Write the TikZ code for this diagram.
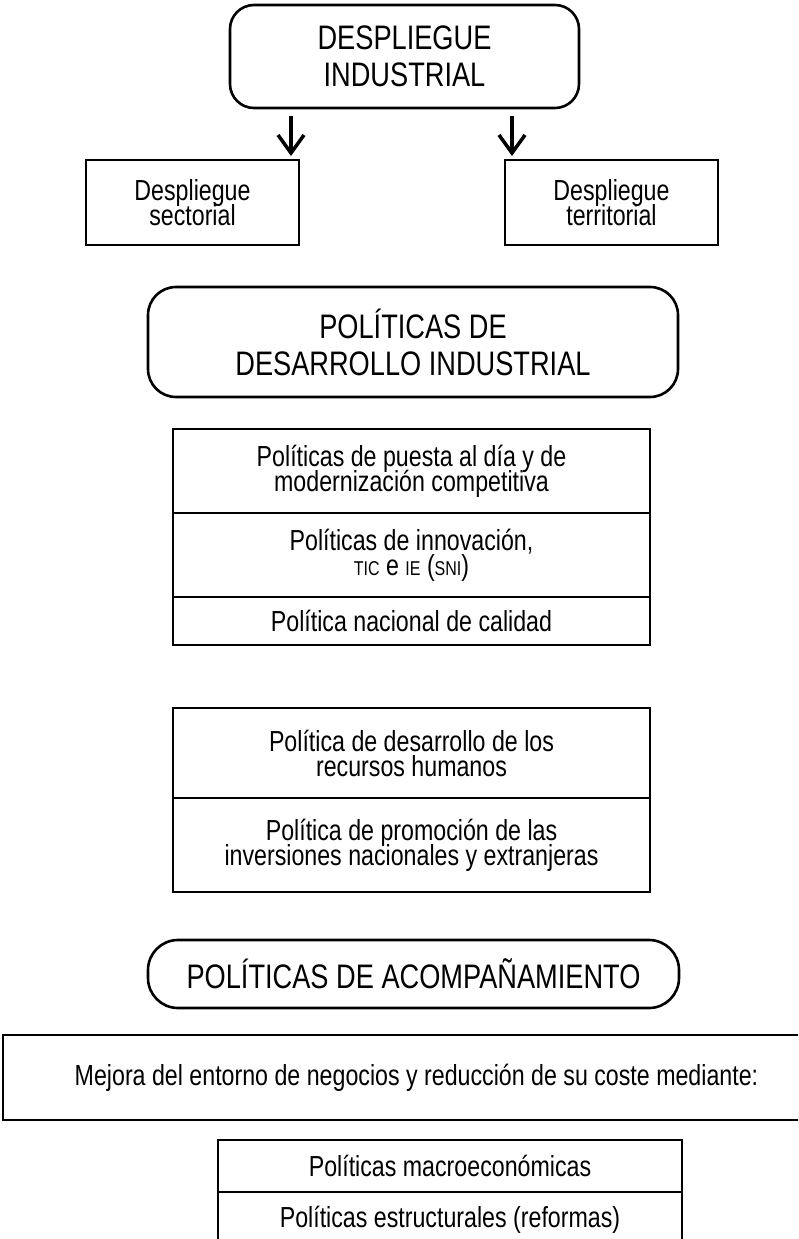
\documentclass[tikz,border=0pt]{standalone}
\usepackage{fontspec}
\setmainfont[FakeStretch=0.8]{Liberation Sans}
\usepackage{tikz}
\usetikzlibrary{arrows.meta}
\usetikzlibrary{calc}
\newcommand{\letrachica}{\fontsize{29}{25}\selectfont\lineskiplimit-50pt\relax}
\newcommand{\letragrande}{\fontsize{34}{37}\selectfont\lineskiplimit-50pt\relax}
\newcommand{\sigla}[1]{{\fontsize{20}{20}\selectfont #1}}
\tikzset{
    caja/.style={draw, line width=2.6pt, align=center, inner sep=0pt, outer sep=0pt,
        font=\letrachica},
    titulo/.style={caja, rounded corners=24pt, font=\letragrande},
    flecha/.style={line width=3.5pt, shorten >=4pt,
        -{Straight Barb[length=18pt,width=26pt,line width=3.5pt]}},
}

\begin{document}
\begin{tikzpicture}[x=1pt, y=-1pt]
    \useasboundingbox (0,0) rectangle (798,1239);
    \clip (0,0) rectangle (798,1239);

    \node[titulo, minimum width=349pt, minimum height=103pt] (despliegue) at (404.5,56.5) {DESPLIEGUE\\INDUSTRIAL};
    \node[caja, minimum width=213pt, minimum height=85pt] (sectorial) at (192.5,202.5) {Despliegue\\sectorial};
    \node[caja, minimum width=213pt, minimum height=85pt] (territorial) at (611.5,202.5) {Despliegue\\territorial};
    \coordinate (fs) at ($(sectorial.north east)+(-8,0)$);
    \coordinate (ft) at ($(territorial.north west)+(7,0)$);
    \draw[flecha] (fs |- despliegue.south) ++(0,8) -- (fs);
    \draw[flecha] (ft |- despliegue.south) ++(0,8) -- (ft);

    \node[titulo, rounded corners=28pt, minimum width=530pt, minimum height=110pt] (desarrollo) at (413,342) {POLÍTICAS DE\\DESARROLLO INDUSTRIAL};

    \node[caja, minimum width=477pt, minimum height=84pt] (puesta) at (411.5,471) {Políticas de puesta al día y de\\modernización competitiva};
    \node[caja, minimum width=477pt, minimum height=84pt] (innovacion) at (411.5,555) {Políticas de innovación,\\\sigla{TIC} e \sigla{IE} (\sigla{SNI})};
    \node[caja, minimum width=477pt, minimum height=48pt] (calidad) at (411.5,621) {Política nacional de calidad};

    \node[caja, minimum width=477pt, minimum height=90pt] (rrhh) at (411.5,753) {Política de desarrollo de los\\recursos humanos};
    \node[caja, minimum width=477pt, minimum height=94pt] (inversiones) at (411.5,845) {Política de promoción de las\\inversiones nacionales y extranjeras};

    \node[titulo, rounded corners=30pt, minimum width=531pt, minimum height=68pt] (acompanamiento) at (413.5,974) {POLÍTICAS DE ACOMPAÑAMIENTO};
    \node[caja, minimum width=827pt, minimum height=85pt] (entorno) at (416.5,1077.5) {Mejora del entorno de negocios y reducción de su coste mediante:};
    \node[caja, minimum width=464pt, minimum height=52pt] (macro) at (450,1166) {Políticas macroeconómicas};
    \node[caja, minimum width=464pt, minimum height=56pt] (estructurales) at (450,1220) {Políticas estructurales (reformas)};
\end{tikzpicture}
\end{document}
